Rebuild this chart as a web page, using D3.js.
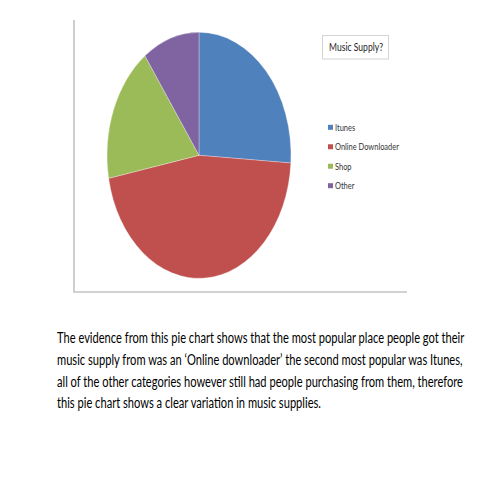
<!DOCTYPE html>
<html lang="en">
<head>
    <meta charset="UTF-8">
    <title>Music Supply?</title>
    <script src="https://cdnjs.cloudflare.com/ajax/libs/d3/7.8.5/d3.min.js"></script>
    <style>
        * { margin: 0; padding: 0; }
        body { background: #fff; }
        svg { display: block; }
        text { font-family: Lato, "Open Sans", sans-serif; }
    </style>
</head>
<body>
    <div id="chart"></div>

    <script>
        // survey answers
        const categories = ["Itunes", "Online Downloader", "Shop", "Other"];
        const counts = [13, 23, 9, 5];
        const colours = ["#4F81BD", "#C0504D", "#9BBB59", "#8064A2"];
        const legendTitle = "Music Supply?";
        const caption = [
            "The evidence from this pie chart shows that the most popular place people got their",
            "music supply from was an \u2018Online downloader\u2019 the second most popular was Itunes,",
            "all of the other categories however still had people purchasing from them, therefore",
            "this pie chart shows a clear variation in music supplies."
        ];

        const width = 480, height = 480;

        const svg = d3.select("#chart").append("svg")
            .attr("width", width)
            .attr("height", height);

        // squeeze a text group horizontally so one of its texts has the wanted width
        // (no Calibri here, the fallback fonts run wider)
        function fitX(g, node, wanted, x0) {
            const w = node.getComputedTextLength();
            const k = Math.min(1, wanted / w);
            g.attr("transform", `translate(${x0 * (1 - k)},0) scale(${k},1)`);
        }

        // chart area border (left + bottom only show in the image)
        svg.append("path")
            .attr("d", "M74,20 V292 H407")
            .attr("fill", "none")
            .attr("stroke", "#c4c4c4")
            .attr("stroke-width", 1.6);

        const color = d3.scaleOrdinal().domain(categories).range(colours);

        const slices = d3.pie().sort(null).value(d => d.value)(
            categories.map((c, i) => ({ name: c, value: counts[i] }))
        );

        // excel stretched the pie into an ellipse
        const R = 100, rx = 92, ry = 123;
        const arc = d3.arc().innerRadius(0).outerRadius(R);

        svg.append("g")
            .attr("transform", `translate(199,155.3) scale(${rx / R},${ry / R})`)
            .selectAll("path")
            .data(slices)
            .join("path")
            .attr("d", arc)
            .attr("fill", d => color(d.data.name))
            .attr("stroke", "#fff")
            .attr("stroke-opacity", 0.5)
            .attr("stroke-width", 0.6)
            .attr("vector-effect", "non-scaling-stroke");

        // legend title box
        svg.append("rect")
            .attr("x", 322.5).attr("y", 35.5)
            .attr("width", 66).attr("height", 23.5)
            .attr("fill", "#fff")
            .attr("stroke", "#d4d4d4")
            .attr("stroke-width", 1);
        const titleG = svg.append("g");
        const titleText = titleG.append("text")
            .attr("x", 329).attr("y", 51.5)
            .attr("font-size", 11)
            .attr("fill", "#222")
            .text(legendTitle);
        fitX(titleG, titleText.node(), 54, 329);

        const legendY = d3.scalePoint().domain(categories).range([127.3, 185.7]);

        const legend = svg.append("g");
        legend.selectAll("rect")
            .data(categories)
            .join("rect")
            .attr("x", 328).attr("y", d => legendY(d) - 2.5)
            .attr("width", 5).attr("height", 5)
            .attr("fill", d => color(d));

        const legendText = svg.append("g");
        legendText.selectAll("text")
            .data(categories)
            .join("text")
            .attr("x", 335).attr("y", d => legendY(d) + 3.3)
            .attr("font-size", 9.5)
            .attr("fill", "#333")
            .text(d => d);
        fitX(legendText, legendText.selectAll("text").nodes()[1], 64, 335);

        // caption under the chart
        const capG = svg.append("g");
        capG.selectAll("text")
            .data(caption)
            .join("text")
            .attr("x", 57)
            .attr("y", (d, i) => 343 + i * 21.8)
            .attr("font-size", 15)
            .attr("fill", "#000")
            .text(d => d);
        fitX(capG, capG.select("text").node(), 408, 57);
    </script>
</body>
</html>
